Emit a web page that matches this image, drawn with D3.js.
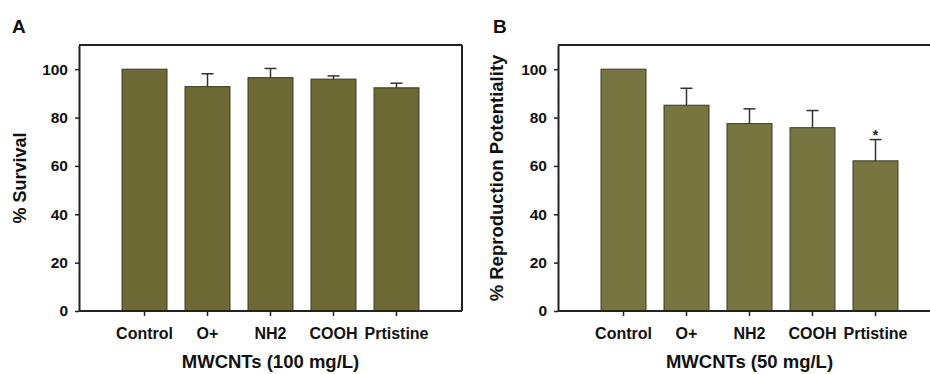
<!DOCTYPE html>
<html>
<head>
<meta charset="utf-8">
<script src="https://cdn.jsdelivr.net/npm/d3@7"></script>
<style>
  html, body { margin: 0; padding: 0; background: #fff; }
  svg { display: block; font-family: "Liberation Sans", Arial, sans-serif; }
</style>
</head>
<body>
<svg id="chart" width="930" height="374"></svg>
<script>
const categories = ["Control", "O+", "NH2", "COOH", "Prtistine"];
const survival = [100, 92.8, 96.5, 95.9, 92.3];
const survivalErr = [0, 5.3, 3.8, 1.3, 1.9];
const repro = [100, 85.1, 77.5, 75.8, 62.1];
const reproErr = [0, 7.0, 6.1, 7.1, 8.8];
const reproSig = [false, false, false, false, true];
const yTicks = [0, 20, 40, 60, 80, 100];

const svg = d3.select("#chart");

function panel(opts) {
  const { left, width, top, bottom, values, errs, sig, fill, letter, letterX, yTitle, yTitleX, xTitle, boxRight } = opts;
  const g = svg.append("g");
  const x = d3.scaleBand().domain(categories).range([left, left + width])
    .paddingInner(0.286).paddingOuter(0.683);
  const y = d3.scaleLinear().domain([0, 110]).range([bottom, top]);

  // frame
  const frame = g.append("g").attr("stroke", "#222").attr("stroke-width", 2).attr("fill", "none");
  frame.append("line").attr("x1", left).attr("x2", boxRight).attr("y1", top).attr("y2", top);
  if (boxRight < 930) {
    frame.append("line").attr("x1", boxRight).attr("x2", boxRight).attr("y1", top).attr("y2", bottom);
  }

  // bars
  g.selectAll("rect.bar").data(categories).join("rect")
    .attr("class", "bar")
    .attr("x", d => x(d))
    .attr("width", x.bandwidth())
    .attr("y", (d, i) => y(values[i]))
    .attr("height", (d, i) => y(0) - y(values[i]))
    .attr("fill", fill)
    .attr("stroke", "#3a3a28")
    .attr("stroke-width", 1);

  // error bars
  const eb = g.append("g").attr("stroke", "#333").attr("stroke-width", 1.5);
  categories.forEach((c, i) => {
    if (errs[i] <= 0) return;
    const cx = x(c) + x.bandwidth() / 2;
    eb.append("line").attr("x1", cx).attr("x2", cx)
      .attr("y1", y(values[i])).attr("y2", y(values[i] + errs[i]));
    eb.append("line").attr("x1", cx - 6).attr("x2", cx + 6)
      .attr("y1", y(values[i] + errs[i])).attr("y2", y(values[i] + errs[i]));
    if (sig && sig[i]) {
      g.append("text").attr("x", cx).attr("y", y(values[i] + errs[i]) + 0.5)
        .attr("text-anchor", "middle").attr("font-size", 14).attr("font-weight", "bold")
        .attr("fill", "#222").text("*");
    }
  });

  // axes
  const yAxis = g.append("g").attr("transform", `translate(${left},0)`)
    .call(d3.axisLeft(y).tickValues(yTicks).tickSize(4).tickPadding(7).tickSizeOuter(0));
  yAxis.select(".domain").attr("stroke", "#222").attr("stroke-width", 2);
  yAxis.selectAll(".tick line").attr("stroke", "#222").attr("stroke-width", 1.5);
  yAxis.selectAll(".tick text").attr("font-size", 15.5).attr("font-weight", "bold")
    .attr("fill", "#111").attr("font-family", "Liberation Sans, Arial, sans-serif");

  const xAxis = g.append("g").attr("transform", `translate(0,${bottom})`)
    .call(d3.axisBottom(x).tickSize(5).tickPadding(12).tickSizeOuter(0));
  xAxis.select(".domain").attr("d", `M${left},0H${boxRight}`).attr("stroke", "#222").attr("stroke-width", 2);
  xAxis.selectAll(".tick line").attr("stroke", "#222").attr("stroke-width", 1.5);
  xAxis.selectAll(".tick text").attr("font-size", 16).attr("font-weight", "bold")
    .attr("fill", "#111").attr("font-family", "Liberation Sans, Arial, sans-serif");

  // titles
  g.append("text").attr("x", left + width / 2).attr("y", 368)
    .attr("text-anchor", "middle").attr("font-size", 18.5).attr("font-weight", "bold")
    .attr("fill", "#111").text(xTitle);
  g.append("text").attr("transform", `translate(${yTitleX},${(top + bottom) / 2}) rotate(-90)`)
    .attr("text-anchor", "middle").attr("font-size", opts.yTitleSize).attr("font-weight", "bold")
    .attr("fill", "#111").text(yTitle);
  g.append("text").attr("x", letterX).attr("y", 32.5)
    .attr("font-size", 19).attr("font-weight", "bold").attr("fill", "#111").text(letter);
}

panel({
  left: 79, width: 383, top: 45, bottom: 311, boxRight: 462,
  values: survival, errs: survivalErr, sig: null, fill: "#6c6934",
  letter: "A", letterX: 12, yTitle: "% Survival", yTitleX: 26, yTitleSize: 18,
  xTitle: "MWCNTs (100 mg/L)"
});

panel({
  left: 558, width: 383, top: 45, bottom: 311, boxRight: 930,
  values: repro, errs: reproErr, sig: reproSig, fill: "#787640",
  letter: "B", letterX: 493, yTitle: "% Reproduction Potentiality", yTitleX: 503, yTitleSize: 18.5,
  xTitle: "MWCNTs (50 mg/L)"
});
</script>
</body>
</html>
